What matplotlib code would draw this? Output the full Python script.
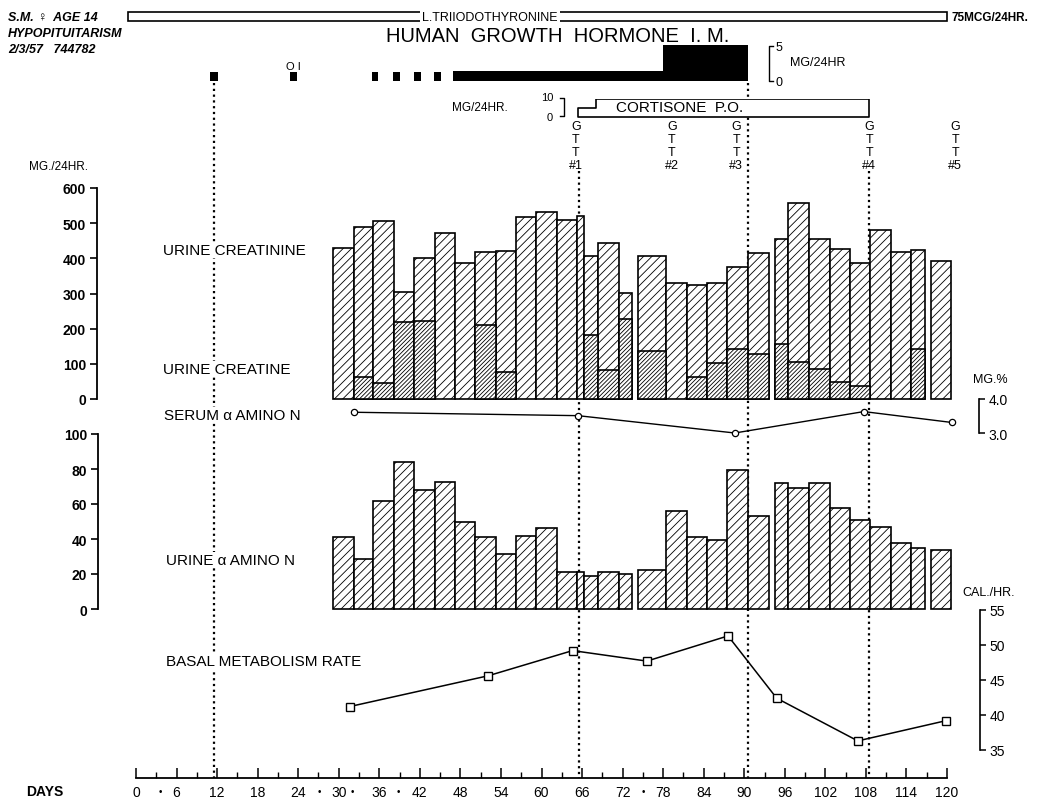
import matplotlib.pyplot as plt
from matplotlib.patches import Rectangle

plt.rcParams["font.family"] = ["Liberation Sans", "DejaVu Sans"]
plt.rcParams["hatch.linewidth"] = 0.6
plt.rcParams["hatch.color"] = "black"

W, H = 1041, 803
X0, X1 = 136, 947  # pixel columns of day 0 and day 120
AXIS_ROW = 779     # pixel row of the day axis

# ---- data ----
# urine collection periods: day boundaries, one list per contiguous run of bars
PERIOD_EDGES = [
    [29.1, 32.2, 35.1, 38.2, 41.2, 44.2, 47.2, 50.2, 53.2, 56.2, 59.2, 62.3,
     65.3, 66.3, 68.3, 71.4, 73.4],
    [74.3, 78.4, 81.5, 84.5, 87.5, 90.5, 93.6],
    [94.6, 96.5, 99.6, 102.7, 105.6, 108.6, 111.7, 114.7, 116.8],
    [117.7, 120.6],
]
CREATININE = [428, 490, 507, 305, 401, 471, 386, 417, 422, 517, 533, 509, 519, 408, 443, 301,
              406, 329, 324, 330, 374, 414,
              455, 556, 455, 426, 387, 481, 417, 423,
              392]
CREATINE = [0, 62, 45, 218, 221, 0, 0, 210, 78, 0, 0, 0, 0, 183, 83, 227,
            137, 0, 62, 101, 142, 128,
            156, 104, 85, 47, 36, 0, 0, 142,
            0]
URINE_AAN = [41, 28.6, 61.5, 83.8, 67.8, 72.4, 49.7, 41.1, 31.6, 41.5, 46.3, 21.3, 21, 19, 21.3, 20.2,
             22.5, 55.8, 41.1, 39.6, 79.4, 53,
             72, 69.1, 71.8, 57.7, 50.7, 46.7, 37.5, 34.7,
             33.9]

SERUM_DAY = [32.3, 65.4, 88.6, 107.7, 120.7]
SERUM_AAN = [3.61, 3.51, 3.0, 3.63, 3.31]

BMR_DAY = [31.6, 52.1, 64.6, 75.6, 87.6, 94.8, 106.8, 119.9]
BMR = [41.2, 45.6, 49.2, 47.7, 51.3, 42.4, 36.3, 39.2]

# growth hormone injections (mg/24hr)
GH_START = [11.0, 22.8, 34.9, 38.0, 41.1, 44.1, 46.9, 78.0]
GH_END = [12.1, 23.8, 35.8, 39.1, 42.2, 45.1, 78.0, 90.5]
GH_DOSE = [1.25, 1.25, 1.25, 1.25, 1.25, 1.25, 1.4, 5.0]

# cortisone p.o. (mg/24hr), step changes
CORT_DAY = [65.4, 68.0, 108.4]
CORT_DOSE = [5, 10, 10]

T3_START, T3_END = -1.2, 120

GTT_DAY = [65.1, 79.3, 88.8, 108.5, 121.2]
GTT_LABEL = ["#1", "#2", "#3", "#4", "#5"]

EVENT_DAY = [11.5, 65.5, 90.6, 108.4]
EVENT_TOP = [84, 172, 84, 172]

DAY_TICKS = list(range(0, 121, 6))
STAR_DAY = [3.6, 27.1, 32.0, 38.8, 75.0]

HATCH_LIGHT = "////"
HATCH_DARK = "/" * 8


def px_axes(top, bottom):
    ax = fig.add_axes([X0 / W, 1 - bottom / H, (X1 - X0) / W, (bottom - top) / H])
    ax.set_xlim(0, 120)
    ax.patch.set_alpha(0)
    for s in ax.spines.values():
        s.set_visible(False)
    ax.set_xticks([])
    return ax


def frac(px):
    return (px - X0) / (X1 - X0)


fig = plt.figure(figsize=(W / 100, H / 100), dpi=100)
fig.patch.set_facecolor("white")

lefts, widths = [], []
for edges in PERIOD_EDGES:
    lefts += edges[:-1]
    widths += [b - a for a, b in zip(edges[:-1], edges[1:])]

# ---- day axis (y in pixel rows) carrying the event lines and labels ----
ax_days = px_axes(0, AXIS_ROW)
ax_days.set_ylim(AXIS_ROW, 0)
ax_days.set_yticks([])
ax_days.spines["bottom"].set_visible(True)
ax_days.spines["bottom"].set_linewidth(1.3)
ax_days.set_xticks(DAY_TICKS, labels=[str(d) for d in DAY_TICKS], fontsize=10)
ax_days.set_xticks(range(0, 121, 3), minor=True)
ax_days.tick_params(axis="x", which="major", direction="in", length=7, width=1.1, pad=5)
ax_days.tick_params(axis="x", which="minor", direction="in", length=4, width=1.0)
for d in STAR_DAY:
    ax_days.text(d, AXIS_ROW + 13, "•", fontsize=7, ha="center", va="center")

ax_days.vlines(EVENT_DAY, EVENT_TOP, AXIS_ROW, colors="black", linewidth=1.6,
               linestyles=(0, (1.0, 1.6)), zorder=1)

ax_days.add_patch(Rectangle((T3_START, 13), T3_END - T3_START, 9, fill=False,
                            linewidth=1.2, clip_on=False))
ax_days.text(52.4, 17.5, "L.TRIIODOTHYRONINE", fontsize=9, ha="center", va="center",
             bbox=dict(facecolor="white", edgecolor="none", pad=1.5))

for d, lab in zip(GTT_DAY, GTT_LABEL):
    for row, ch in zip([127, 140, 153, 166], ["G", "T", "T", lab]):
        ax_days.text(d, row, ch, fontsize=9, ha="center", va="center")

# ---- growth hormone ----
ax_gh = px_axes(46, 82)
ax_gh.set_ylim(0, 5)
ax_gh.set_yticks([])
ax_gh.bar(GH_START, GH_DOSE, [e - s for s, e in zip(GH_START, GH_END)],
          align="edge", color="black", linewidth=0)

# ---- cortisone ----
ax_cort = px_axes(100, 118)
ax_cort.set_ylim(0, 10)
ax_cort.set_yticks([])
ax_cort.fill_between(CORT_DAY, 0, CORT_DOSE, step="post", facecolor="white",
                     edgecolor="black", linewidth=1.2)

# ---- urine creatinine / creatine ----
ax_cr = px_axes(189, 400)
ax_cr.set_ylim(0, 600)
ax_cr.bar(lefts, CREATININE, widths, align="edge", facecolor="white",
          edgecolor="black", hatch=HATCH_LIGHT, linewidth=1.2, clip_on=False)
cr_l = [l for l, v in zip(lefts, CREATINE) if v > 0]
cr_w = [w for w, v in zip(widths, CREATINE) if v > 0]
cr_v = [v for v in CREATINE if v > 0]
ax_cr.bar(cr_l, cr_v, cr_w, align="edge", facecolor="white",
          edgecolor="black", hatch=HATCH_DARK, linewidth=1.2, clip_on=False)
ax_cr.spines["left"].set_visible(True)
ax_cr.spines["left"].set_position(("axes", frac(97)))
ax_cr.spines["left"].set_linewidth(1.3)
ax_cr.set_yticks(range(0, 601, 100), labels=[str(v) for v in range(0, 601, 100)],
                 fontsize=10, fontweight="bold")
ax_cr.tick_params(axis="y", direction="out", length=5, width=1.2, pad=3)

# ---- serum alpha amino N ----
ax_se = px_axes(400, 434)
ax_se.set_ylim(3.0, 4.0)
ax_se.plot(SERUM_DAY, SERUM_AAN, color="black", linewidth=1.0, marker="o",
           markersize=4.5, markerfacecolor="white", markeredgewidth=0.9, clip_on=False)
ax_se.spines["right"].set_visible(True)
ax_se.spines["right"].set_position(("axes", frac(979)))
ax_se.spines["right"].set_linewidth(1.2)
ax_se.yaxis.tick_right()
ax_se.set_yticks([3.0, 4.0], labels=["3.0", "4.0"], fontsize=10)
ax_se.tick_params(axis="y", direction="out", length=4, width=1.1, pad=3)

# ---- urine alpha amino N ----
ax_am = px_axes(435, 610)
ax_am.set_ylim(0, 100)
ax_am.bar(lefts, URINE_AAN, widths, align="edge", facecolor="white",
          edgecolor="black", hatch=HATCH_LIGHT, linewidth=1.2, clip_on=False)
ax_am.spines["left"].set_visible(True)
ax_am.spines["left"].set_position(("axes", frac(98)))
ax_am.spines["left"].set_linewidth(1.3)
ax_am.set_yticks(range(0, 101, 20), labels=[str(v) for v in range(0, 101, 20)],
                 fontsize=10, fontweight="bold")
ax_am.tick_params(axis="y", direction="out", length=5, width=1.2, pad=3)

# ---- basal metabolism rate ----
ax_bmr = px_axes(611, 751)
ax_bmr.set_ylim(35, 55)
ax_bmr.plot(BMR_DAY, BMR, color="black", linewidth=1.1, marker="s",
            markersize=6, markerfacecolor="white", markeredgewidth=1.0, clip_on=False)
ax_bmr.spines["right"].set_visible(True)
ax_bmr.spines["right"].set_position(("axes", frac(980)))
ax_bmr.spines["right"].set_linewidth(1.2)
ax_bmr.yaxis.tick_right()
ax_bmr.set_yticks(range(35, 56, 5), labels=[str(v) for v in range(35, 56, 5)], fontsize=10)
ax_bmr.tick_params(axis="y", direction="out", length=4, width=1.1, pad=3)

# ---- fixed lettering (pixel overlay) ----
ov = fig.add_axes([0, 0, 1, 1])
ov.set_xlim(0, W)
ov.set_ylim(H, 0)
ov.axis("off")

hdr = dict(fontsize=9, fontweight="bold", fontstyle="italic", ha="left", va="center")
ov.text(8, 18, "S.M. \u2640  AGE 14", **hdr)
ov.text(8, 34, "HYPOPITUITARISM", **hdr)
ov.text(8, 50, "2/3/57   744782", **hdr)

ov.text(951, 18, "75MCG/24HR.", fontsize=8.5, fontweight="bold", ha="left", va="center")
ov.text(558, 36, "HUMAN  GROWTH  HORMONE  I. M.", fontsize=14.5, ha="center", va="center")
ov.text(293, 67, "O I", fontsize=8, ha="center", va="center")

# growth hormone scale bracket
ov.plot([773, 769, 769, 773], [47, 47, 82, 82], color="black", linewidth=1.0)
ov.text(776, 48, "5", fontsize=9, ha="left", va="center")
ov.text(776, 83, "0", fontsize=9, ha="left", va="center")
ov.text(790, 63, "MG/24HR", fontsize=9, ha="left", va="center")

# cortisone scale bracket
ov.plot([560, 564, 564, 560], [99, 99, 117, 117], color="black", linewidth=1.0)
ov.text(553, 98, "10", fontsize=8, ha="right", va="center")
ov.text(553, 118, "0", fontsize=8, ha="right", va="center")
ov.text(480, 108, "MG/24HR.", fontsize=8.5, ha="center", va="center")
ov.text(680, 108, "CORTISONE  P.O.", fontsize=11, ha="center", va="center")

lab = dict(fontsize=11, ha="left", va="center",
           bbox=dict(facecolor="white", edgecolor="none", pad=1))
ov.text(163, 251, "URINE CREATININE", **lab)
ov.text(163, 370, "URINE CREATINE", **lab)
ov.text(164, 416, "SERUM \u03b1 AMINO N", **lab)
ov.text(166, 561, "URINE \u03b1 AMINO N", **lab)
ov.text(166, 662, "BASAL METABOLISM RATE", **lab)

ov.text(58, 167, "MG./24HR.", fontsize=8.5, ha="center", va="center")
ov.text(990, 380, "MG.%", fontsize=9, ha="center", va="center")
ov.text(962, 593, "CAL./HR.", fontsize=9, ha="left", va="center")
ov.text(45, AXIS_ROW + 13, "DAYS", fontsize=10, fontweight="bold", ha="center", va="center")

fig.savefig("out.png", dpi=100)
